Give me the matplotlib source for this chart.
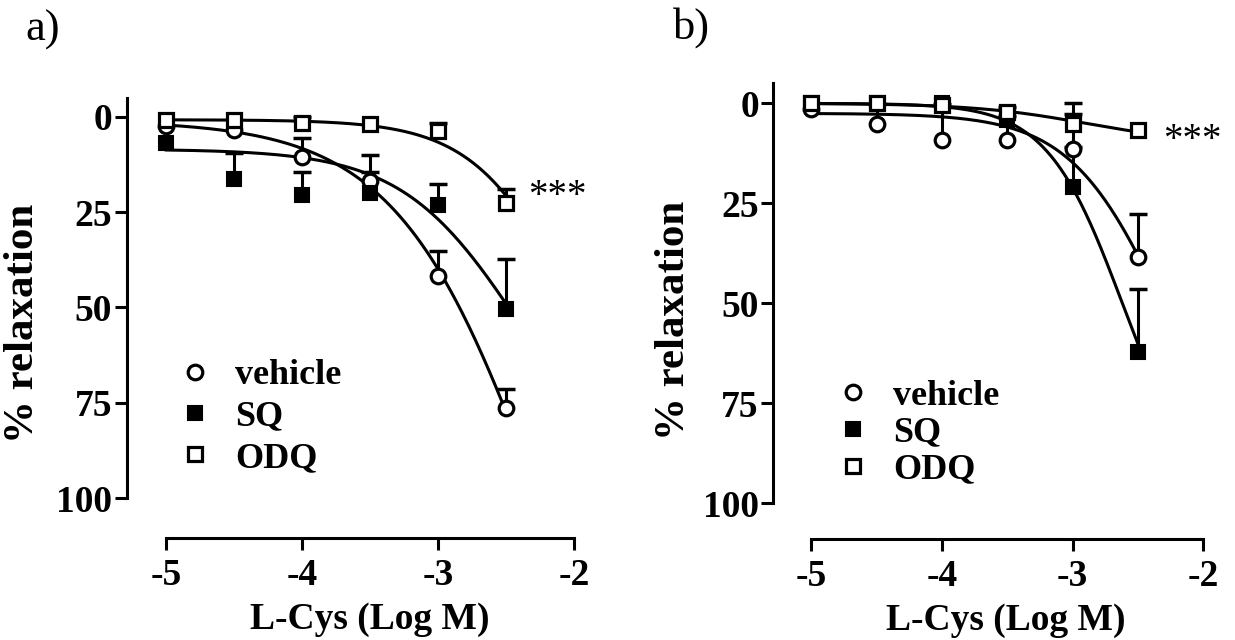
import numpy as np
import matplotlib
matplotlib.use('Agg')
import matplotlib.pyplot as plt

plt.rcParams['font.family'] = ['Liberation Serif', 'DejaVu Serif']
plt.rcParams['axes.unicode_minus'] = False

log_conc = [-5, -4.5, -4, -3.5, -3, -2.5]
labels = ['vehicle', 'SQ', 'ODQ']

# panel a: mean and SEM (% relaxation)
veh_a = [2.5, 3.5, 10.5, 16.8, 41.7, 76.4]
veh_a_sem = [0, 0, 4.8, 6.8, 6.6, 5.0]
sq_a = [6.8, 16.2, 20.5, 20.1, 23.1, 50.4]
sq_a_sem = [0, 6.8, 6.1, 5.7, 5.5, 13.0]
odq_a = [0.9, 1.0, 1.7, 2.0, 3.7, 22.7]
odq_a_sem = [0, 0, 1.7, 0, 2.0, 3.7]

# panel b
veh_b = [1.5, 5.2, 9.2, 9.2, 11.3, 38.3]
veh_b_sem = [0, 5.0, 9.0, 6.0, 11.3, 10.7]
sq_b = [0, 0, 0, 4.2, 21.0, 62.1]
sq_b_sem = [0, 0, 0, 0, 10.0, 15.8]
odq_b = [0, 0, 0.5, 2.1, 5.1, 6.7]
odq_b_sem = [0, 0, 0, 1.3, 2.5, 0]

# sigmoid fit parameters: bottom, top, logEC50, hill slope
fit_veh_a = [1.0, 210, -2.2, 0.8]
fit_sq_a = [8.5, 100, -2.4, 1.0]
fit_odq_a = [0.8, 100, -2.0, 1.2]
fit_veh_b = [2.5, 100, -2.3, 1.2]
fit_sq_b = [0.0, 100, -2.62, 1.5]
fit_odq_b = [0.0, 10, -2.9, 1.0]

styles = [
    dict(marker='o', mfc='white', mec='black', ms=10.5, mew=2.3),
    dict(marker='s', mfc='black', mec='black', ms=10, mew=1.5),
    dict(marker='s', mfc='white', mec='black', ms=10, mew=2.3),
]


def sigmoid(x, bottom, top, logec50, hill):
    return bottom + (top - bottom) / (1 + 10 ** ((logec50 - x) * hill))


def draw_panel(ax, means, sems, fits, offset):
    x = np.array(log_conc)
    xs = np.linspace(-5, -2.5, 200)
    handles = []
    for m, s, p, st, lab in zip(means, sems, fits, styles, labels):
        m = np.array(m)
        s = np.array(s)
        ax.plot(xs, sigmoid(xs, *p), color='black', lw=2.2, zorder=2)
        has = s > 0
        ax.vlines(x[has], m[has] - s[has], m[has], color='black', lw=2.2, zorder=1)
        ax.plot(x[has], m[has] - s[has], ls='none', marker='_', ms=13, mew=2.5,
                color='black', zorder=1)
        h, = ax.plot(x, m, ls='none', zorder=3, label=lab, **st)
        handles.append(h)

    ax.set_xlim(-5.29, -2.0)
    ax.set_ylim(100, -5)
    ax.set_xticks([-5, -4, -3, -2])
    ax.set_yticks([0, 25, 50, 75, 100])
    for side in ['top', 'right']:
        ax.spines[side].set_visible(False)
    ax.spines['left'].set_linewidth(2.2)
    ax.spines['bottom'].set_linewidth(2.2)
    ax.spines['bottom'].set_position(('outward', offset))
    ax.spines['bottom'].set_bounds(-5, -2)
    ax.tick_params(direction='out', length=8.5, width=2.2, labelsize=27)
    ax.tick_params(axis='x', pad=6)
    ax.tick_params(axis='y', pad=2)
    for t in ax.get_xticklabels() + ax.get_yticklabels():
        t.set_fontweight('bold')
    return handles


fig = plt.figure(figsize=(12.35, 6.4), dpi=100)

ax_a = fig.add_axes([0.1026, 0.2214, 0.3622, 0.6261])
h_a = draw_panel(ax_a, [veh_a, sq_a, odq_a], [veh_a_sem, sq_a_sem, odq_a_sem],
                 [fit_veh_a, fit_sq_a, fit_odq_a], 28.6)
ax_b = fig.add_axes([0.6262, 0.2136, 0.3482, 0.6562])
h_b = draw_panel(ax_b, [veh_b, sq_b, odq_b], [veh_b_sem, sq_b_sem, odq_b_sem],
                 [fit_veh_b, fit_sq_b, fit_odq_b], 25.7)

for ax, xl, yl in [(ax_a, (0.544, -0.303), (-0.232, 0.4375)),
                   (ax_b, (0.541, -0.279), (-0.232, 0.436))]:
    ax.set_xlabel('L-Cys (Log M)', fontsize=27, fontweight='bold', va='center')
    ax.set_ylabel('% relaxation', fontsize=31, fontweight='bold', va='center')
    ax.xaxis.set_label_coords(*xl)
    ax.yaxis.set_label_coords(*yl)

leg_kw = dict(frameon=False, handlelength=1.0, handletextpad=0.6, borderpad=0,
              borderaxespad=0, numpoints=1, loc='center left',
              bbox_transform=fig.transFigure,
              prop=dict(family='Liberation Serif', weight='bold', size=26))
ax_a.legend(handles=h_a, bbox_to_anchor=(177 / 1235, 1 - 417 / 640),
            labelspacing=0.22, **leg_kw)
ax_b.legend(handles=h_b, bbox_to_anchor=(835 / 1235, 1 - 433 / 640),
            labelspacing=0.1, **leg_kw)

# significance marks
ax_a.text(-2.121, 21.0, '***', fontsize=28, ha='center', va='center', clip_on=False)
ax_b.text(-2.087, 9.3, '***', fontsize=28, ha='center', va='center', clip_on=False)

fig.text(43 / 1235, 1 - 30 / 640, 'a)', fontsize=32, ha='center', va='center')
fig.text(692 / 1235, 1 - 28 / 640, 'b)', fontsize=32, ha='center', va='center')

fig.savefig('out.png', dpi=100)
